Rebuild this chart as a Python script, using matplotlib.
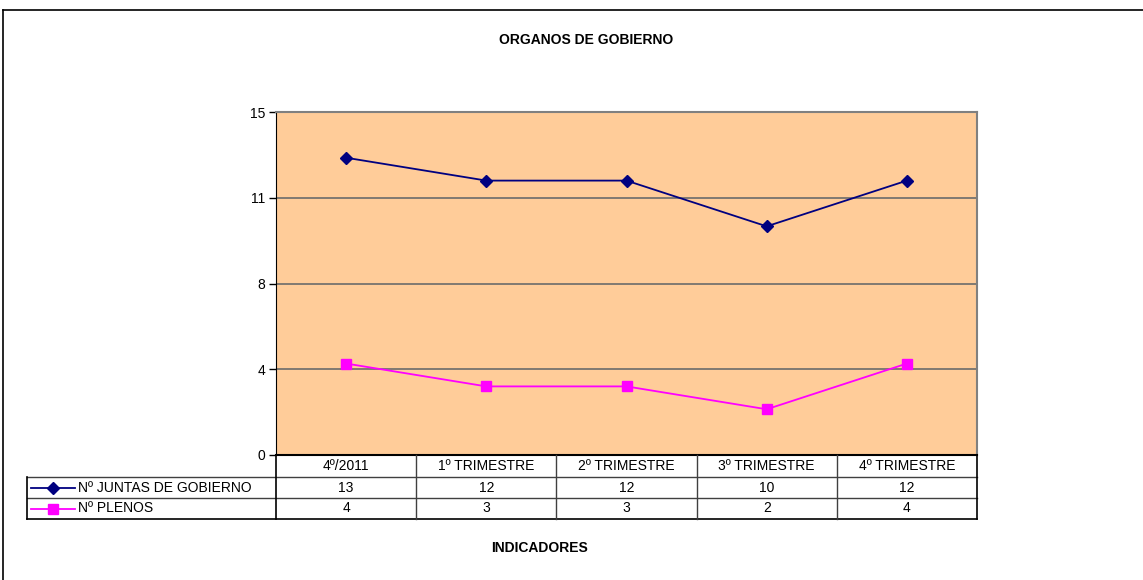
import matplotlib.pyplot as plt
from matplotlib.lines import Line2D

plt.rcParams['font.family'] = ['Liberation Sans', 'DejaVu Sans']

# data
categories = ['4º/2011', '1º TRIMESTRE', '2º TRIMESTRE', '3º TRIMESTRE', '4º TRIMESTRE']
juntas = [13, 12, 12, 10, 12]
plenos = [4, 3, 3, 2, 4]
series_names = ['Nº JUNTAS DE GOBIERNO', 'Nº PLENOS']
y_ticks = [0, 3.75, 7.5, 11.25, 15]
y_labels = ['0', '4', '8', '11', '15']

W, H = 1143, 580
fig = plt.figure(figsize=(W / 100, H / 100), dpi=100)

def fx(px):
    return px / W

def fy(py):
    return 1 - py / H

# outer chart border (left and top visible)
fig.add_artist(Line2D([fx(3), fx(3)], [fy(10), 0], color='black', lw=1.2, transform=fig.transFigure))
fig.add_artist(Line2D([fx(3), 1], [fy(10), fy(10)], color='black', lw=1.2, transform=fig.transFigure))

left, right, top, bottom = 276, 977, 112, 455
ax = fig.add_axes([fx(left), fy(bottom), fx(right - left), (bottom - top) / H])
ax.set_facecolor('#FFCC99')
ax.set_xlim(-0.5, len(categories) - 0.5)
ax.set_ylim(0, 15)

x = list(range(len(categories)))
colors = ['#000080', '#FF00FF']
markers = ['D', 's']
msizes = [6.5, 7.5]
for vals, c, m, ms in zip([juntas, plenos], colors, markers, msizes):
    ax.plot(x, vals, color=c, marker=m, markersize=ms, lw=1.3, zorder=3)

for t in y_ticks[1:-1]:
    ax.axhline(t, color='#6b6b6b', lw=1.2, zorder=1)

ax.set_yticks(y_ticks)
ax.set_yticklabels(y_labels, fontsize=10)
ax.tick_params(axis='y', length=5, width=1, pad=3)
ax.set_xticks([])
ax.spines['top'].set_color('#808080')
ax.spines['right'].set_color('#808080')
ax.spines['top'].set_linewidth(1.5)
ax.spines['right'].set_linewidth(1.5)
ax.spines['left'].set_color('black')
ax.spines['bottom'].set_color('black')
ax.spines['bottom'].set_linewidth(1.5)

# data table below the plot
tab_left = 27
row_edges = [455, 477, 498, 519]
col_w = (right - left) / len(categories)
col_edges = [left + i * col_w for i in range(len(categories) + 1)]

def hline(x0, x1, y, lw=1, color='black'):
    fig.add_artist(Line2D([fx(x0), fx(x1)], [fy(y), fy(y)], color=color, lw=lw, transform=fig.transFigure))

def vline(xx, y0, y1, lw=1, color='black'):
    fig.add_artist(Line2D([fx(xx), fx(xx)], [fy(y0), fy(y1)], color=color, lw=lw, transform=fig.transFigure))

hline(tab_left, right, row_edges[1], color='#404040')
hline(tab_left, right, row_edges[2], color='#404040')
hline(tab_left, right, row_edges[3], lw=1.2)
vline(tab_left, row_edges[1], row_edges[3], lw=1.2)
for i, ce in enumerate(col_edges):
    edge = i in (0, len(col_edges) - 1)
    vline(ce, row_edges[0], row_edges[3], lw=1.2 if edge else 1, color='black' if edge else '#404040')

for i, cat in enumerate(categories):
    cx = (col_edges[i] + col_edges[i + 1]) / 2
    fig.text(fx(cx), fy((row_edges[0] + row_edges[1]) / 2), cat, ha='center', va='center', fontsize=10)
    for r, vals in enumerate([juntas, plenos]):
        fig.text(fx(cx), fy((row_edges[r + 1] + row_edges[r + 2]) / 2), str(vals[i]),
                 ha='center', va='center', fontsize=10)

for r, name in enumerate(series_names):
    ym = (row_edges[r + 1] + row_edges[r + 2]) / 2
    fig.add_artist(Line2D([fx(31), fx(75)], [fy(ym), fy(ym)], color=colors[r], lw=1.3,
                          transform=fig.transFigure))
    fig.add_artist(Line2D([fx(53)], [fy(ym)], color=colors[r], marker=markers[r],
                          markersize=msizes[r], transform=fig.transFigure))
    fig.text(fx(78), fy(ym), name, ha='left', va='center', fontsize=10)

fig.text(fx(586), fy(40), 'ORGANOS DE GOBIERNO', ha='center', va='center', fontsize=10, fontweight='bold')
fig.text(fx(539), fy(548), 'INDICADORES', ha='center', va='center', fontsize=10, fontweight='bold')

fig.savefig('out.png', dpi=100)
